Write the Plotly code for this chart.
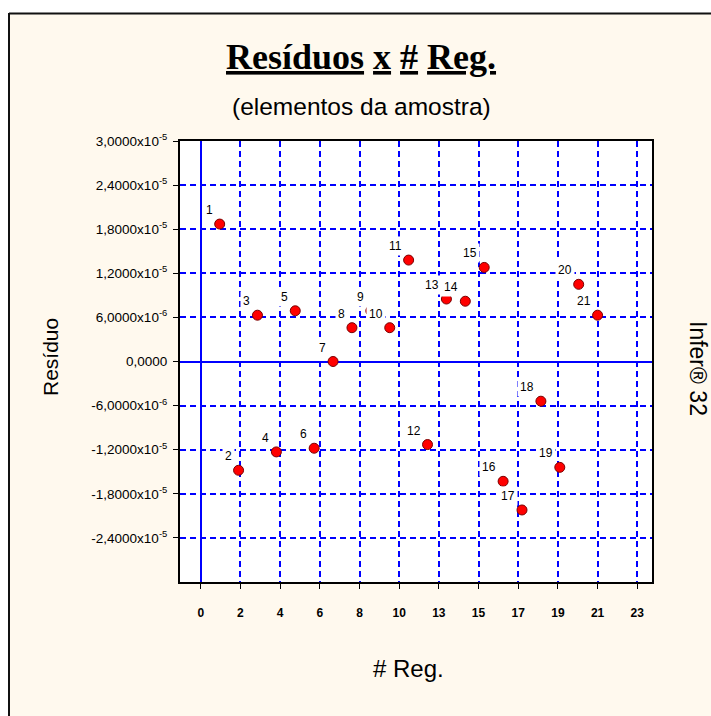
import plotly.graph_objects as go

# Residuals of each sample element (regression index vs residual)
reg = list(range(1, 22))
residuo = [18.7e-6, -14.8e-6, 6.3e-6, -12.3e-6, 6.9e-6, -11.8e-6, 0.0, 4.6e-6, 6.9e-6,
           4.6e-6, 13.8e-6, -11.3e-6, 8.5e-6, 8.2e-6, 12.8e-6, -16.3e-6, -20.2e-6,
           -5.4e-6, -14.4e-6, 10.5e-6, 6.3e-6]
point_labels = [str(i) for i in reg]

# X axis: ticks every 2.1 units, shown rounded
x_tickvals = [0, 2.1, 4.2, 6.3, 8.4, 10.5, 12.6, 14.7, 16.8, 18.9, 21.0, 23.1]
x_ticktext = ["0", "2", "4", "6", "8", "10", "13", "15", "17", "19", "21", "23"]

# Y axis ticks
y_tickvals = [-2.4e-5, -1.8e-5, -1.2e-5, -6e-6, 0, 6e-6, 1.2e-5, 1.8e-5, 2.4e-5, 3e-5]
y_ticktext = ["-2,4000x10<sup>-5</sup>", "-1,8000x10<sup>-5</sup>", "-1,2000x10<sup>-5</sup>",
              "-6,0000x10<sup>-6</sup>", "0,0000", "6,0000x10<sup>-6</sup>",
              "1,2000x10<sup>-5</sup>", "1,8000x10<sup>-5</sup>", "2,4000x10<sup>-5</sup>",
              "3,0000x10<sup>-5</sup>"]

W, H = 711, 716
L, R, T, B = 180, 652, 141, 582
CREAM = "#FFF9EE"
SANS = "Liberation Sans, Arial, sans-serif"
SERIF = "Liberation Serif, Times New Roman, serif"


def px(x):
    return (x - L) / (R - L)


def py(y):
    return (B - y) / (B - T)


fig = go.Figure()
fig.add_trace(go.Scatter(
    x=reg, y=residuo, mode="markers",
    marker=dict(size=10, color="#FF0000", line=dict(width=1, color="#7A0000")),
    hoverinfo="x+y", showlegend=False,
))

annotations = []
for xv, yv, lab in zip(reg, residuo, point_labels):
    annotations.append(dict(
        x=xv, y=yv, xref="x", yref="y", text=lab, showarrow=False,
        xanchor="right", yanchor="bottom", xshift=-4, yshift=4,
        font=dict(family=SANS, size=12, color="black"),
        bgcolor="white", borderpad=2,
    ))

annotations += [
    dict(x=px(361), y=py(57), xref="paper", yref="paper", showarrow=False,
         text="<b><u>Resíduos</u> <u>x</u> <u>#</u> <u>Reg.</u></b>",
         font=dict(family=SERIF, size=36, color="black"), xanchor="center", yanchor="middle"),
    dict(x=px(361), y=py(106), xref="paper", yref="paper", showarrow=False,
         text="(elementos da amostra)",
         font=dict(family=SANS, size=24.5, color="black"), xanchor="center", yanchor="middle"),
    dict(x=px(50), y=py(357), xref="paper", yref="paper", showarrow=False,
         text="Resíduo", textangle=-90,
         font=dict(family=SANS, size=21, color="black"), xanchor="center", yanchor="middle"),
    dict(x=px(698), y=py(368), xref="paper", yref="paper", showarrow=False,
         text="Infer® 32", textangle=90,
         font=dict(family=SANS, size=23, color="black"), xanchor="center", yanchor="middle"),
    dict(x=px(408), y=py(668), xref="paper", yref="paper", showarrow=False,
         text="# Reg.",
         font=dict(family=SANS, size=24, color="black"), xanchor="center", yanchor="middle"),
]

shapes = [
    # white strips outside the panel frame
    dict(type="rect", xref="paper", yref="paper", x0=px(-5), x1=px(8), y0=py(-5), y1=py(H + 5),
         fillcolor="white", line=dict(width=0), layer="above"),
    dict(type="rect", xref="paper", yref="paper", x0=px(-5), x1=px(W + 5), y0=py(-5), y1=py(13),
         fillcolor="white", line=dict(width=0), layer="above"),
    # panel frame (top and left edges)
    dict(type="line", xref="paper", yref="paper", x0=px(9), x1=px(W + 5), y0=py(13.5), y1=py(13.5),
         line=dict(color="#111111", width=2), layer="above"),
    dict(type="line", xref="paper", yref="paper", x0=px(9), x1=px(9), y0=py(13), y1=py(H + 5),
         line=dict(color="#111111", width=2), layer="above"),
]

axis_common = dict(
    showgrid=True, gridcolor="#0000FF", gridwidth=1.5, griddash="6px,4px",
    zeroline=True, zerolinecolor="#0000FF", zerolinewidth=2,
    showline=True, linecolor="black", linewidth=2, mirror=True,
    ticks="outside", ticklen=5, tickcolor="black", tickwidth=1,
)

fig.update_layout(
    width=W, height=H,
    margin=dict(l=L, r=W - R, t=T, b=H - B, pad=0),
    paper_bgcolor=CREAM, plot_bgcolor="white",
    xaxis=dict(range=[-1.1, 23.88], tickmode="array", tickvals=x_tickvals,
               ticktext=x_ticktext, ticklabelstandoff=14,
               tickfont=dict(family=SANS, size=12, color="black", weight="bold"),
               **axis_common),
    yaxis=dict(range=[-3e-5, 3e-5], tickmode="array", tickvals=y_tickvals,
               ticktext=y_ticktext, ticklabelstandoff=3,
               tickfont=dict(family=SANS, size=13.5, color="black"),
               **axis_common),
    annotations=annotations,
    shapes=shapes,
    showlegend=False,
)

fig.write_html("out.html")
